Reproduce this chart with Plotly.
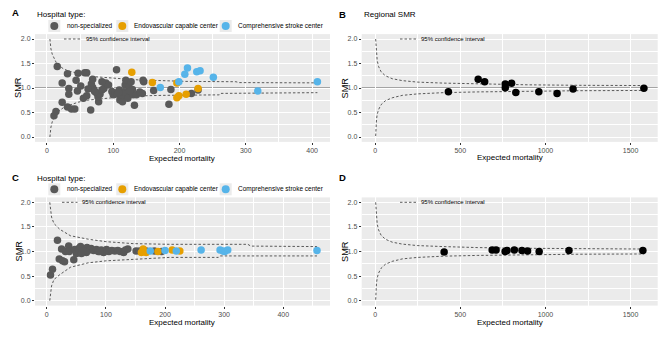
import plotly.graph_objects as go

W, H = 669, 339
FONT = "Liberation Sans, Arial, sans-serif"

# ---------------- data ----------------
# Panel A: hospital SMR vs expected mortality
a_ns_E = [15.6, 10.6, 13.6, 23, 23, 31, 33, 33, 31, 37, 42, 44, 47, 46, 51, 55, 57, 60, 60, 66,
          67, 69, 69, 71, 75, 78, 77, 80, 83, 86, 89, 93, 83, 98, 100, 103, 105, 106, 109, 110,
          113, 114, 116, 118, 120, 122, 119, 124, 127, 129, 130, 132, 135, 144, 146, 145, 161, 184,
          187, 218, 228, 62, 72, 108, 125, 140]
a_ns_smr = [1.44, 0.435, 0.52, 1.10, 0.71, 1.29, 0.99, 0.87, 0.61, 0.57, 0.57, 1.16, 1.30, 0.94, 1.04,
            0.79, 1.31, 1.31, 0.84, 0.55, 1.08, 1.18, 1.01, 0.96, 0.90, 0.72, 0.82, 0.87, 0.96, 0.99,
            1.10, 1.06, 1.13, 0.93, 0.86, 0.90, 1.37, 0.88, 0.96, 0.755, 0.82, 0.72, 0.925, 1.06, 0.88,
            0.79, 1.16, 1.01, 1.13, 0.97, 0.86, 0.65, 0.86, 0.89, 1.13, 1.16, 0.95, 0.67, 0.97, 0.89,
            0.96, 0.98, 0.93, 0.91, 0.94, 0.92]
a_ev_E = [128, 159, 196, 196, 199, 210, 228]
a_ev_smr = [1.32, 1.11, 1.10, 0.80, 0.84, 0.87, 0.99]
a_cs_E = [171, 199, 208, 212, 226, 231, 251, 318, 408]
a_cs_smr = [1.01, 1.13, 1.28, 1.41, 1.33, 1.35, 1.22, 0.94, 1.13]

a_ci_E = [4.5, 6, 8, 11, 14, 17, 25, 32, 47, 60, 72, 98, 120, 143, 175, 208, 260, 262, 285, 290, 408]
a_ci_hi = [2.0, 1.80, 1.69, 1.59, 1.52, 1.47, 1.39, 1.35, 1.29, 1.25, 1.23, 1.20, 1.18, 1.16, 1.15,
           1.135, 1.13, 1.13, 1.128, 1.11, 1.105]
a_ci_lo = [0.0, 0.20, 0.31, 0.41, 0.48, 0.52, 0.60, 0.64, 0.71, 0.75, 0.77, 0.80, 0.82, 0.84, 0.85,
           0.857, 0.86, 0.89, 0.89, 0.89, 0.905]

# Panel B: regional SMR
b_E = [430, 605, 643, 764, 764, 801, 826, 961, 1068, 1162, 1578]
b_smr = [0.925, 1.177, 1.13, 1.08, 1.007, 1.095, 0.91, 0.925, 0.89, 0.98, 0.993]

# Panel C: hospital SMR (second model)
c_ns_E = [6.2, 9.6, 18, 21, 25, 26.5, 30, 31.5, 37, 38, 45.6, 47, 50, 54, 57, 58.6, 64, 68, 71.5, 75,
          79, 84, 87, 92, 96, 101, 105, 110, 115, 120, 124, 130, 133, 137, 67, 62, 89.5, 151, 157,
          168, 182, 194]
c_ns_smr = [0.52, 0.64, 1.23, 0.85, 1.05, 0.81, 0.79, 1.0, 1.11, 1.0, 0.83, 1.04, 0.96, 1.06, 1.10,
            0.96, 1.03, 1.08, 1.03, 1.06, 1.02, 1.04, 1.0, 1.03, 0.98, 1.04, 1.0, 1.02, 1.01, 1.02,
            1.0, 0.98, 1.03, 1.05, 0.98, 1.01, 1.0, 1.01, 1.01, 1.01, 1.01, 1.0]
c_ev_E = [160, 163, 168, 188, 212, 225]
c_ev_smr = [0.98, 1.05, 0.98, 1.0, 1.03, 1.01]
c_cs_E = [175, 200, 219, 261, 293, 298, 301, 306, 457]
c_cs_smr = [1.01, 1.02, 1.01, 1.03, 1.03, 1.01, 1.0, 1.03, 1.02]

c_ci_E = [5, 8, 12, 22, 40, 70, 100, 146, 208, 290, 292, 340, 345, 457]
c_ci_hi = [2.0, 1.70, 1.57, 1.45, 1.32, 1.25, 1.20, 1.16, 1.146, 1.146, 1.146, 1.146, 1.11, 1.10]
c_ci_lo = [0.0, 0.30, 0.43, 0.53, 0.68, 0.77, 0.81, 0.84, 0.88, 0.88, 0.91, 0.91, 0.91, 0.91]

# Panel D: regional SMR (second model)
d_E = [405, 687, 710, 763, 774, 817, 862, 895, 963, 1138, 1572]
d_smr = [0.99, 1.03, 1.03, 1.0, 1.02, 1.03, 1.02, 1.01, 1.0, 1.02, 1.02]

# Regional confidence limits (B and D)
r_ci_E = [3, 5, 8, 12, 20, 35, 60, 100, 160, 250, 400, 600, 900, 1200, 1580]
r_ci_hi = [2.0, 1.85, 1.68, 1.56, 1.44, 1.33, 1.25, 1.19, 1.15, 1.12, 1.10, 1.08, 1.065, 1.055, 1.05]
r_ci_lo = [0.02, 0.22, 0.36, 0.46, 0.56, 0.66, 0.74, 0.80, 0.85, 0.88, 0.905, 0.92, 0.935, 0.945, 0.95]

hosp_types = ["non-specialized", "Endovascular capable center", "Comprehensive stroke center"]
col_ns, col_ev, col_cs = "#595959", "#E69F00", "#56B4E9"
x_ticks_hosp = [0, 100, 200, 300, 400]
x_ticks_reg = [0, 500, 1000, 1500]
y_ticks = [0.0, 0.5, 1.0, 1.5, 2.0]
y_tick_text = ["0.0", "0.5", "1.0", "1.5", "2.0"]

# ---------------- helpers ----------------
def fx(px):
    return px / W

def fy(py):
    return 1 - py / H

fig = go.Figure()

def add_points(E, s, color, ax):
    xa, ya = ("x", "y") if ax == 1 else (f"x{ax}", f"y{ax}")
    fig.add_trace(go.Scatter(x=E, y=s, mode="markers", xaxis=xa, yaxis=ya, showlegend=False,
                             marker=dict(color=color, size=7.5, line=dict(width=0)),
                             hoverinfo="skip"))

def add_ci(E, lo, hi, ax):
    xa, ya = ("x", "y") if ax == 1 else (f"x{ax}", f"y{ax}")
    for arr in (hi, lo):
        fig.add_trace(go.Scatter(x=E, y=arr, mode="lines", xaxis=xa, yaxis=ya, showlegend=False,
                                 line=dict(color="#333333", width=0.8, dash="2.5px,2px"),
                                 hoverinfo="skip"))

# Panel A
add_ci(a_ci_E, a_ci_lo, a_ci_hi, 1)
add_points(a_ns_E, a_ns_smr, col_ns, 1)
add_points(a_ev_E, a_ev_smr, col_ev, 1)
add_points(a_cs_E, a_cs_smr, col_cs, 1)
# Panel B
add_ci(r_ci_E, r_ci_lo, r_ci_hi, 2)
add_points(b_E, b_smr, "#000000", 2)
# Panel C
add_ci(c_ci_E, c_ci_lo, c_ci_hi, 3)
add_points(c_ns_E, c_ns_smr, col_ns, 3)
add_points(c_ev_E, c_ev_smr, col_ev, 3)
add_points(c_cs_E, c_cs_smr, col_cs, 3)
# Panel D
add_ci(r_ci_E, r_ci_lo, r_ci_hi, 4)
add_points(d_E, d_smr, "#000000", 4)

# ---------------- axes ----------------
def xaxis(dom, rng, ticks, minor, anchor):
    return dict(domain=[fx(dom[0]), fx(dom[1])], range=rng, tickvals=ticks,
                ticktext=[str(t) for t in ticks], showgrid=True, gridcolor="white", gridwidth=1,
                minor=dict(dtick=minor, tick0=0, showgrid=True, gridcolor="white", gridwidth=0.5, ticks=""),
                zeroline=False, showline=False, ticks="outside", ticklen=2, tickwidth=0.8,
                tickcolor="#333333", tickfont=dict(size=7, color="#4D4D4D", family=FONT),
                anchor=anchor, fixedrange=True)

def yaxis(top, bottom, anchor):
    return dict(domain=[fy(bottom), fy(top)], range=[-0.1, 2.1], tickvals=y_ticks, ticktext=y_tick_text,
                showgrid=True, gridcolor="white", gridwidth=1,
                minor=dict(dtick=0.25, tick0=0, showgrid=True, gridcolor="white", gridwidth=0.5, ticks=""),
                zeroline=False, showline=False, ticks="outside", ticklen=2, tickwidth=0.8,
                tickcolor="#333333", tickfont=dict(size=7, color="#4D4D4D", family=FONT),
                anchor=anchor, fixedrange=True)

LX, RX = (35, 330), (361.7, 657.7)
TOP1, BOT1 = 34.1, 141.9
TOP2, BOT2 = 197.4, 305.6

fig.update_layout(
    template="none",
    width=W, height=H, margin=dict(l=0, r=0, t=0, b=0, pad=0),
    paper_bgcolor="white", plot_bgcolor="#EBEBEB",
    font=dict(family=FONT, color="#000000"),
    showlegend=False,
    xaxis=xaxis(LX, [-18, 427], x_ticks_hosp, 50, "y"),
    yaxis=yaxis(TOP1, BOT1, "x"),
    xaxis2=xaxis(RX, [-79, 1659], x_ticks_reg, 250, "y2"),
    yaxis2=yaxis(TOP1, BOT1, "x2"),
    xaxis3=xaxis(LX, [-20, 479], x_ticks_hosp, 50, "y3"),
    yaxis3=yaxis(TOP2, BOT2, "x3"),
    xaxis4=xaxis(RX, [-79, 1659], x_ticks_reg, 250, "y4"),
    yaxis4=yaxis(TOP2, BOT2, "x4"),
)

shapes = []
annotations = []

# reference line at SMR = 1
for ax in ["", "2", "3", "4"]:
    shapes.append(dict(type="line", xref=f"x{ax} domain", yref=f"y{ax}", x0=0, x1=1, y0=1, y1=1,
                       line=dict(color="#5E5E5E", width=1.2), layer="below"))

def text(px, py, t, size, xanchor="left", bold=False, color="#000000", angle=0):
    annotations.append(dict(x=fx(px), y=fy(py), xref="paper", yref="paper", text=(f"<b>{t}</b>" if bold else t),
                            showarrow=False, xanchor=xanchor, yanchor="middle", textangle=angle,
                            font=dict(size=size, family=FONT, color=color)))

# panel letters and titles
text(10, 13, "A", 9.5, bold=True)
text(337, 14, "B", 9.5, bold=True)
text(10, 177, "C", 9.5, bold=True)
text(337, 177, "D", 9.5, bold=True)
text(362, 14, "Regional SMR", 8)

# axis titles
for (cx, cy) in [(182.5, 158.3), (509.7, 157), (182.5, 322.7), (509.7, 322.7)]:
    text(cx, cy, "Expected mortality", 8, xanchor="center")
for (cx, cy) in [(18, 88), (344.5, 88), (18, 251.5), (344.5, 251.5)]:
    text(cx, cy, "SMR", 9.2, xanchor="center", angle=-90)

# confidence-interval key inside panels
for (x0, x1, y, tx) in [(64, 82, 39, 83.5), (400, 417, 39, 419), (62, 77.5, 202.3, 79.5), (400, 417, 202.3, 419)]:
    shapes.append(dict(type="line", xref="paper", yref="paper", x0=fx(x0), x1=fx(x1), y0=fy(y), y1=fy(y),
                       line=dict(color="#333333", width=0.8, dash="2.5px,2px")))
    text(tx, y, "95% confidence interval", 6)

# hospital-type legends (A and C)
key_dot_x = [54.3, 122.3, 225.7]
key_text_x = [65, 131.7, 236]
key_cols = [col_ns, col_ev, col_cs]
for (ty, iy) in [(15, 26), (178, 189.3)]:
    text(35, ty, "Hospital type:", 8)
    for dx, tx, col, lab in zip(key_dot_x, key_text_x, key_cols, hosp_types):
        shapes.append(dict(type="rect", xref="paper", yref="paper", x0=fx(dx - 6), x1=fx(dx + 6),
                           y0=fy(iy + 6), y1=fy(iy - 6), fillcolor="#EBEBEB", line=dict(width=0)))
        shapes.append(dict(type="circle", xref="paper", yref="paper", x0=fx(dx - 4), x1=fx(dx + 4),
                           y0=fy(iy + 4), y1=fy(iy - 4), fillcolor=col, line=dict(width=0)))
        text(tx, iy, lab, 6.5)

fig.update_layout(shapes=shapes, annotations=annotations)
fig.write_html("out.html", config={"displayModeBar": False},
               post_script="document.body.style.margin='0';document.body.style.padding='0';")
